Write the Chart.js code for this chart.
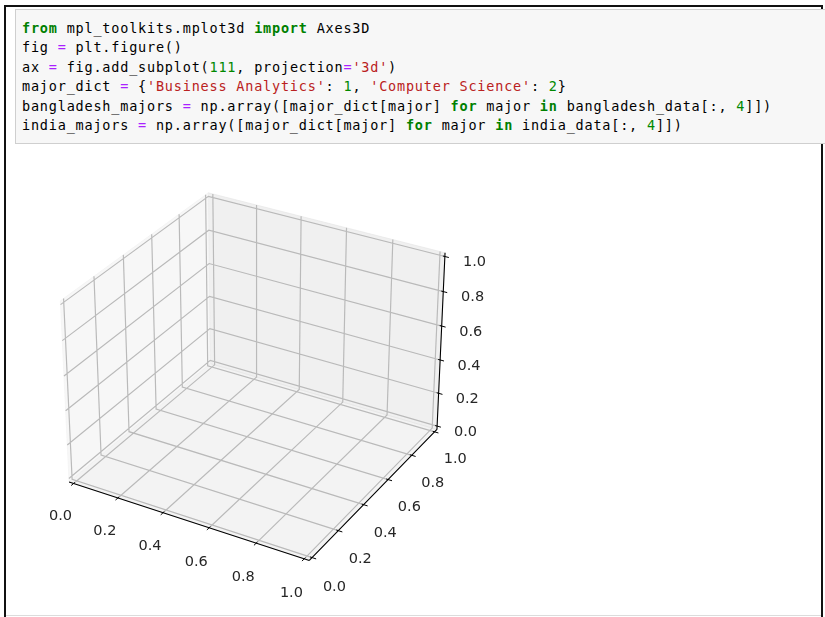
<!DOCTYPE html>
<html>
<head>
<meta charset="utf-8">
<script src="https://cdn.jsdelivr.net/npm/chart.js@4.4.1/dist/chart.umd.min.js"></script>
<style>
  html, body { margin: 0; padding: 0; background: #fff; }
  body { width: 825px; height: 617px; position: relative; overflow: hidden; }
  #frame { position: absolute; left: 4px; top: 5px; width: 815px; height: 640px;
           border: 2px solid #111; border-bottom: none; }
  #cell { position: absolute; left: 15px; top: 9px; width: 820px; height: 133px;
          background: #f7f7f7; border: 1px solid #cfcfcf; }
  #cell pre { margin: 0; position: absolute; left: 6px; top: 8.5px;
              font-family: "DejaVu Sans Mono", monospace; font-size: 13.5px;
              letter-spacing: 0.8px; line-height: 19.6px; color: #000; }
  .k { color: #008000; font-weight: bold; }
  .o { color: #aa22ff; }
  .n { color: #008800; }
  .s { color: #ba2121; }
  #foot { position: absolute; left: 6px; top: 615px; width: 815px; height: 1px; background: #dcdcdc; }
  canvas { position: absolute; left: 0; top: 0; }
</style>
</head>
<body>
<div id="frame"></div>
<div id="cell"><pre><span class="k">from</span> mpl_toolkits.mplot3d <span class="k">import</span> Axes3D
fig <span class="o">=</span> plt.figure()
ax <span class="o">=</span> fig.add_subplot(<span class="n">111</span>, projection<span class="o">=</span><span class="s">'3d'</span>)
major_dict <span class="o">=</span> {<span class="s">'Business Analytics'</span>: <span class="n">1</span>, <span class="s">'Computer Science'</span>: <span class="n">2</span>}
bangladesh_majors <span class="o">=</span> np.array([major_dict[major] <span class="k">for</span> major <span class="k">in</span> bangladesh_data[:, <span class="n">4</span>]])
india_majors <span class="o">=</span> np.array([major_dict[major] <span class="k">for</span> major <span class="k">in</span> india_data[:, <span class="n">4</span>]])</pre></div>
<div id="foot"></div>
<canvas id="chart" width="825" height="617"></canvas>
<script>
// ticks of the empty 3d axes (limits 0..1 on every axis)
const xTicks = [0, 0.2, 0.4, 0.6, 0.8, 1.0];
const yTicks = [0, 0.2, 0.4, 0.6, 0.8, 1.0];
const zTicks = [0, 0.2, 0.4, 0.6, 0.8, 1.0];
const xTickLabels = ["0.0", "0.2", "0.4", "0.6", "0.8", "1.0"];
const yTickLabels = ["0.0", "0.2", "0.4", "0.6", "0.8", "1.0"];
const zTickLabels = ["0.0", "0.2", "0.4", "0.6", "0.8", "1.0"];

// view like matplotlib's default: elev 30, azim -60, box aspect 4:4:3
const elev = 30, azim = -60, dist = 10;
const lo = -1 / 48, hi = 1 + 1 / 48;   // panes sit a little outside the limits
const labelGap = 0.0865;

const rad = Math.PI / 180;
const box = [4, 4, 3].map(v => v * 1.8294640721620434 / Math.sqrt(41));
const R = box.map(v => v / 2);
const w = [Math.cos(elev*rad)*Math.cos(azim*rad), Math.cos(elev*rad)*Math.sin(azim*rad), Math.sin(elev*rad)];
const eye = R.map((r, i) => r + dist * w[i]);
const cross = (a, b) => [a[1]*b[2]-a[2]*b[1], a[2]*b[0]-a[0]*b[2], a[0]*b[1]-a[1]*b[0]];
const dot = (a, b) => a[0]*b[0] + a[1]*b[1] + a[2]*b[2];
let u = cross([0, 0, 1], w);
const un = Math.sqrt(dot(u, u));
u = u.map(c => c / un);
const v = cross(w, u);

function project(p) {
  const d = p.map((c, i) => c * box[i] - eye[i]);
  const depth = -dot(w, d);
  return { x: dot(u, d) / depth, y: dot(v, d) / depth };
}

function polyline(list) {
  const out = [];
  list.forEach(seg => { seg.forEach(p => out.push(project(p))); out.push({ x: null, y: null }); });
  return out;
}

const gridSegs = [];
xTicks.forEach(t => gridSegs.push([[t, lo, lo], [t, hi, lo], [t, hi, hi]]));
yTicks.forEach(t => gridSegs.push([[lo, t, hi], [lo, t, lo], [hi, t, lo]]));
zTicks.forEach(t => gridSegs.push([[hi, hi, t], [lo, hi, t], [lo, lo, t]]));

const tOut = 0.2 / 12, tIn = 0.1 / 12;
const tickSegs = [];
xTicks.forEach(t => tickSegs.push([[t, lo - tOut, lo], [t, lo + tIn, lo]]));
yTicks.forEach(t => tickSegs.push([[hi + tOut, t, lo], [hi - tIn, t, lo]]));
zTicks.forEach(t => tickSegs.push([[hi + tOut, hi, t], [hi - tIn, hi, t]]));

const axisSegs = [
  [[lo, lo, lo], [hi, lo, lo]],
  [[hi, lo, lo], [hi, hi, lo]],
  [[hi, hi, lo], [hi, hi, hi]]
];

const paneX = [[lo, lo, lo], [lo, hi, lo], [lo, hi, hi], [lo, lo, hi], [lo, lo, lo]].map(project);
const paneY = [[lo, hi, lo], [hi, hi, lo], [hi, hi, hi], [lo, hi, hi], [lo, hi, lo]].map(project);
const paneZ = [[lo, lo, lo], [hi, lo, lo], [hi, hi, lo], [lo, hi, lo], [lo, lo, lo]].map(project);

const labelSpots = [];
xTicks.forEach((t, i) => labelSpots.push({ p: project([t, lo - labelGap, lo - labelGap]), text: xTickLabels[i], dx: -1, dy: 8 }));
yTicks.forEach((t, i) => labelSpots.push({ p: project([hi + labelGap, t, lo - labelGap]), text: yTickLabels[i], dx: 1.5, dy: 7.5 }));
zTicks.forEach((t, i) => labelSpots.push({ p: project([hi + labelGap, hi + labelGap, t]), text: zTickLabels[i], dx: -1, dy: 10 }));

const tickLabels = {
  id: "tickLabels",
  afterDatasetsDraw(chart) {
    const { ctx, scales } = chart;
    ctx.save();
    ctx.font = '14.5px "DejaVu Sans"';
    ctx.fillStyle = "#262626";
    ctx.textAlign = "center";
    ctx.textBaseline = "middle";
    labelSpots.forEach(s => {
      ctx.fillText(s.text, scales.x.getPixelForValue(s.p.x) + s.dx, scales.y.getPixelForValue(s.p.y) + s.dy);
    });
    ctx.restore();
  }
};

// where the projected box centre lands and how many px one view unit is
const cx = 256.4, cy = 367.8, scale = 2312;
const W = 825, H = 617;

const paneStyle = (fill, order) => ({
  backgroundColor: fill, borderColor: fill, borderWidth: 1,
  fill: "shape", showLine: true, pointRadius: 0, order
});

new Chart(document.getElementById("chart"), {
  type: "scatter",
  data: {
    datasets: [
      { data: polyline(axisSegs), borderColor: "#000", borderWidth: 1.1, showLine: true, pointRadius: 0, order: 0 },
      { data: polyline(tickSegs), borderColor: "#000", borderWidth: 1, showLine: true, pointRadius: 0, order: 0 },
      { data: polyline(gridSegs), borderColor: "#bababa", borderWidth: 1.2, showLine: true, pointRadius: 0, order: 1 },
      { data: paneX, ...paneStyle("rgba(240,240,240,0.55)", 2) },
      { data: paneY, ...paneStyle("rgba(228,228,228,0.55)", 2) },
      { data: paneZ, ...paneStyle("rgba(234,234,234,0.55)", 2) }
    ]
  },
  options: {
    responsive: false,
    animation: false,
    events: [],
    layout: { padding: 0 },
    plugins: { legend: { display: false }, tooltip: { enabled: false } },
    scales: {
      x: { type: "linear", display: false, min: -cx / scale, max: (W - cx) / scale },
      y: { type: "linear", display: false, min: -(H - cy) / scale, max: cy / scale }
    }
  },
  plugins: [tickLabels]
});
</script>
</body>
</html>
